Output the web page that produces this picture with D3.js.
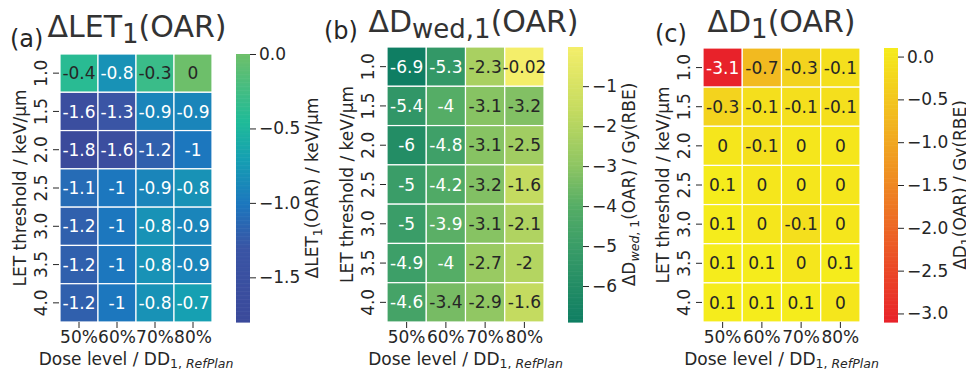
<!DOCTYPE html>
<html>
<head>
<meta charset="utf-8">
<script src="https://cdn.jsdelivr.net/npm/d3@7"></script>
<style>
  body { margin: 0; background: #fff; }
  svg { font-family: "DejaVu Sans", sans-serif; }
</style>
</head>
<body>
<svg id="chart" width="966" height="369"></svg>
<script>
// Data
const doseLevels = ['50%', '60%', '70%', '80%'];
const letThresholds = ['1.0', '1.5', '2.0', '2.5', '3.0', '3.5', '4.0'];

const deltaLET = [
  [-0.4, -0.8, -0.3, 0],
  [-1.6, -1.3, -0.9, -0.9],
  [-1.8, -1.6, -1.2, -1],
  [-1.1, -1, -0.9, -0.8],
  [-1.2, -1, -0.8, -0.9],
  [-1.2, -1, -0.8, -0.9],
  [-1.2, -1, -0.8, -0.7]
];
const deltaDwed = [
  [-6.9, -5.3, -2.3, -0.02],
  [-5.4, -4, -3.1, -3.2],
  [-6, -4.8, -3.1, -2.5],
  [-5, -4.2, -3.2, -1.6],
  [-5, -3.9, -3.1, -2.1],
  [-4.9, -4, -2.7, -2],
  [-4.6, -3.4, -2.9, -1.6]
];
const deltaD = [
  [-3.1, -0.7, -0.3, -0.1],
  [-0.3, -0.1, -0.1, -0.1],
  [0, -0.1, 0, 0],
  [0.1, 0, 0, 0],
  [0.1, 0, -0.1, 0],
  [0.1, 0.1, 0, 0.1],
  [0.1, 0.1, 0.1, 0]
];

const letTicks = [0, -0.5, -1, -1.5];
const dwedTicks = [-1, -2, -3, -4, -5, -6];
const dTicks = [0, -0.5, -1, -1.5, -2, -2.5, -3];

const textColor = '#262626';
const svg = d3.select('#chart');

const panels = [
  {
    label: '(a)', labelX: 10, labelY: 47,
    title: [['ΔLET'], ['1', 'sub'], ['(OAR)']], titleY: 37, titleDx: 1,
    cbLabel: [['ΔLET'], ['1', 'sub'], ['(OAR) / keV/µm']],
    values: deltaLET, ticks: letTicks, fmt: d3.format('.1f'),
    left: 60, right: 212, top: 54, bottom: 322, cbLeft: 236, cbRight: 250,
    cmap: [[0, '#3b4a9b'], [0.278, '#3a55a5'], [0.444, '#1c77be'], [0.611, '#16a0b2'], [0.75, '#20bb98'], [1, '#6dbf6a']]
  },
  {
    label: '(b)', labelX: 324, labelY: 39,
    title: [['ΔD'], ['wed,1', 'sub'], ['(OAR)']], titleY: 32, titleDx: 8,
    cbLabel: [['ΔD'], ['wed', 'subit'], [', 1', 'subcont'], ['(OAR) / Gy(RBE)']],
    values: deltaDwed, ticks: dwedTicks, fmt: d3.format('d'),
    left: 387, right: 544, top: 47, bottom: 322, cbLeft: 568, cbRight: 583,
    cmap: [[0, '#0f7e63'], [0.276, '#3a9d68'], [0.4215, '#55ad66'], [0.567, '#8dc563'], [0.77, '#c4db60'], [1, '#f4ee6a']]
  },
  {
    label: '(c)', labelX: 655, labelY: 42,
    title: [['ΔD'], ['1', 'sub'], ['(OAR)']], titleY: 32, titleDx: 0,
    cbLabel: [['ΔD'], ['1', 'sub'], ['(OAR) / Gy(RBE)']],
    values: deltaD, ticks: dTicks, fmt: d3.format('.1f'),
    left: 703, right: 860, top: 48, bottom: 322, cbLeft: 884, cbRight: 898,
    cmap: [[0, '#e8222a'], [1, '#f5ec1c']]
  }
];

// relative luminance, same rule seaborn uses for annotation colour
function luminance(c) {
  const rgb = d3.rgb(c);
  const lin = v => {
    v /= 255;
    return v <= 0.03928 ? v / 12.92 : Math.pow((v + 0.055) / 1.055, 2.4);
  };
  return 0.2126 * lin(rgb.r) + 0.7152 * lin(rgb.g) + 0.0722 * lin(rgb.b);
}

// write text pieces with subscripts as tspans
function richText(sel, parts, size, subSize, drop) {
  let shifted = false;
  parts.forEach(([txt, kind]) => {
    const t = sel.append('tspan').text(txt);
    const isSub = kind === 'sub' || kind === 'subit' || kind === 'subcont';
    if (isSub) {
      t.style('font-size', subSize + 'px');
      if (!shifted) { t.attr('dy', drop); shifted = true; }
      if (kind === 'subit') t.style('font-style', 'italic');
    } else {
      t.style('font-size', size + 'px');
      if (shifted) { t.attr('dy', -drop); shifted = false; }
    }
  });
}

function drawPanel(cfg) {
  const g = svg.append('g');
  const x = d3.scaleBand().domain(doseLevels).range([cfg.left, cfg.right]);
  const y = d3.scaleBand().domain(letThresholds).range([cfg.top, cfg.bottom]);

  const ext = d3.extent(cfg.values.flat());
  const color = d3.scaleLinear()
    .domain(cfg.cmap.map(s => ext[0] + s[0] * (ext[1] - ext[0])))
    .range(cfg.cmap.map(s => s[1]))
    .interpolate(d3.interpolateRgb)
    .clamp(true);

  // cells
  const cells = [];
  cfg.values.forEach((row, i) => row.forEach((v, j) => {
    cells.push({ row: letThresholds[i], col: doseLevels[j], value: v });
  }));

  g.selectAll('.cell')
    .data(cells)
    .enter()
    .append('rect')
    .attr('x', d => x(d.col))
    .attr('y', d => y(d.row))
    .attr('width', x.bandwidth())
    .attr('height', y.bandwidth())
    .attr('fill', d => color(d.value))
    .attr('stroke', '#fff')
    .attr('stroke-width', 1.2);

  g.selectAll('.annot')
    .data(cells)
    .enter()
    .append('text')
    .attr('x', d => x(d.col) + x.bandwidth() / 2)
    .attr('y', d => y(d.row) + y.bandwidth() / 2)
    .attr('dy', '0.36em')
    .attr('text-anchor', 'middle')
    .style('font-size', '17px')
    .attr('fill', d => luminance(color(d.value)) > 0.37 ? textColor : '#ffffff')
    .text(d => String(d.value));

  // y axis
  const yAxis = g.append('g')
    .attr('transform', `translate(${cfg.left - 1},0)`)
    .call(d3.axisLeft(y).tickSize(6).tickSizeOuter(0));
  yAxis.select('.domain').remove();
  yAxis.selectAll('line').attr('stroke', textColor);
  yAxis.selectAll('text')
    .attr('x', null).attr('dy', null)
    .attr('text-anchor', 'middle')
    .attr('transform', 'translate(-12,0) rotate(-90)')
    .attr('fill', textColor)
    .style('font-size', '17px')
    .style('font-family', '"DejaVu Sans", sans-serif');

  // x axis
  const xAxis = g.append('g')
    .attr('transform', `translate(0,${cfg.bottom})`)
    .call(d3.axisBottom(x).tickSize(6).tickSizeOuter(0));
  xAxis.select('.domain').remove();
  xAxis.selectAll('line').attr('stroke', textColor);
  xAxis.selectAll('text')
    .attr('fill', textColor)
    .style('font-size', '17px')
    .style('font-family', '"DejaVu Sans", sans-serif');

  // axis labels
  const cx = (cfg.left + cfg.right) / 2;
  const xl = g.append('text')
    .attr('x', cx).attr('y', 365)
    .attr('text-anchor', 'middle')
    .attr('fill', textColor);
  richText(xl, [['Dose level / DD'], ['1, ', 'sub'], ['RefPlan', 'subit']], 17, 12.5, 3);

  const cy = (cfg.top + cfg.bottom) / 2;
  g.append('text')
    .attr('transform', `translate(${cfg.left - 34},${cy}) rotate(-90)`)
    .attr('text-anchor', 'middle')
    .attr('fill', textColor)
    .style('font-size', '17px')
    .text('LET threshold / keV/µm');

  // title and panel label
  const tt = g.append('text')
    .attr('x', cx + cfg.titleDx).attr('y', cfg.titleY)
    .attr('text-anchor', 'middle')
    .attr('fill', '#333');
  richText(tt, cfg.title, 30, 26, 6);

  g.append('text')
    .attr('x', cfg.labelX).attr('y', cfg.labelY)
    .attr('fill', textColor)
    .style('font-size', '24px')
    .text(cfg.label);

  // colorbar
  const cb = d3.scaleLinear().domain(ext).range([cfg.bottom, cfg.top]);
  const steps = d3.range(0, 200).map(k => ext[0] + (ext[1] - ext[0]) * k / 200);
  const stepH = (ext[1] - ext[0]) / 200;
  g.selectAll('.cb')
    .data(steps)
    .enter()
    .append('rect')
    .attr('x', cfg.cbLeft)
    .attr('width', cfg.cbRight - cfg.cbLeft)
    .attr('y', d => cb(d + stepH))
    .attr('height', d => cb(d) - cb(d + stepH) + 0.6)
    .attr('fill', d => color(d + stepH / 2));

  const cAxis = g.append('g')
    .attr('transform', `translate(${cfg.cbRight},0)`)
    .call(d3.axisRight(cb).tickValues(cfg.ticks).tickFormat(cfg.fmt).tickSize(6).tickSizeOuter(0));
  cAxis.select('.domain').remove();
  cAxis.selectAll('line').attr('stroke', textColor);
  cAxis.selectAll('text')
    .attr('fill', textColor)
    .style('font-size', '17px')
    .style('font-family', '"DejaVu Sans", sans-serif');

  let maxW = 0;
  cAxis.selectAll('text').each(function() {
    maxW = Math.max(maxW, this.getComputedTextLength());
  });

  const cl = g.append('text')
    .attr('transform', `translate(${cfg.cbRight + 9 + maxW + 18},${cy}) rotate(-90)`)
    .attr('text-anchor', 'middle')
    .attr('fill', textColor);
  richText(cl, cfg.cbLabel, 17, 12.5, 4);
}

panels.forEach(drawPanel);
</script>
</body>
</html>
